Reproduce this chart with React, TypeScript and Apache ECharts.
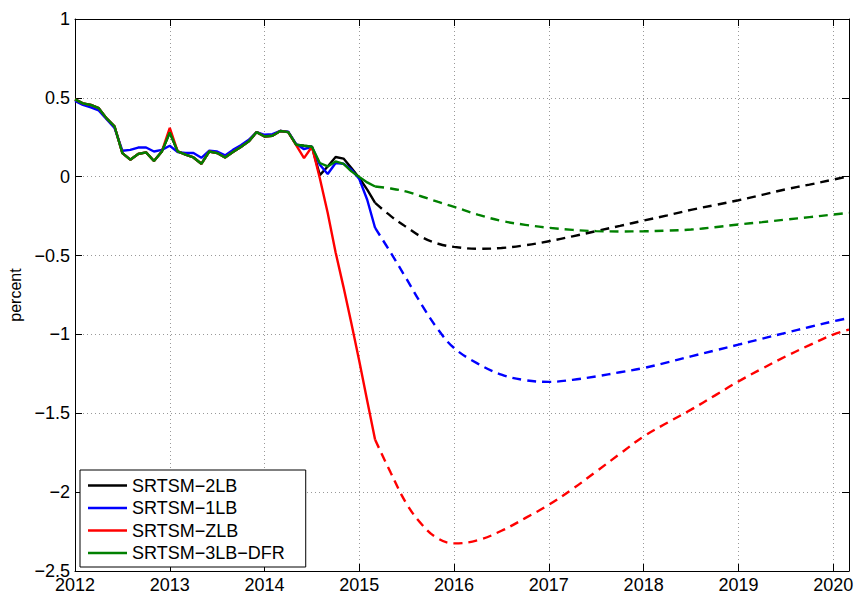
import React, { useEffect, useRef } from "react";
import * as echarts from "echarts";

const seriesNames = ["SRTSM−2LB", "SRTSM−1LB", "SRTSM−ZLB", "SRTSM−3LB−DFR"];
const seriesColors = ["#000000", "#0000ff", "#ff0000", "#008000"];

// monthly history, Jan 2012 .. Mar 2015
const hist2LB = [
  0.49, 0.465, 0.455, 0.435, 0.37, 0.32, 0.15, 0.108, 0.144, 0.154, 0.1, 0.16,
  0.28, 0.16, 0.14, 0.122, 0.082, 0.16, 0.15, 0.122, 0.156, 0.188, 0.224, 0.283,
  0.255, 0.26, 0.29, 0.283, 0.203, 0.196, 0.19, 0.01, 0.065, 0.125, 0.115, 0.055,
  -0.008, -0.082, -0.166,
];
const hist1LB = [
  0.48, 0.455, 0.44, 0.42, 0.365, 0.31, 0.165, 0.17, 0.185, 0.185, 0.16, 0.17,
  0.196, 0.156, 0.15, 0.15, 0.12, 0.165, 0.16, 0.135, 0.17, 0.2, 0.234, 0.283,
  0.266, 0.27, 0.29, 0.285, 0.207, 0.175, 0.19, 0.076, 0.017, 0.087, 0.082, 0.044,
  -0.015, -0.146, -0.325,
];
const histZLB = [
  0.49, 0.465, 0.455, 0.435, 0.37, 0.32, 0.15, 0.108, 0.144, 0.154, 0.1, 0.16,
  0.31, 0.16, 0.14, 0.122, 0.082, 0.16, 0.15, 0.122, 0.156, 0.188, 0.224, 0.283,
  0.255, 0.26, 0.29, 0.283, 0.2, 0.118, 0.19, -0.01, -0.23, -0.48, -0.7, -0.93,
  -1.17, -1.42, -1.668,
];
const hist3LB = [
  0.49, 0.465, 0.455, 0.435, 0.37, 0.32, 0.15, 0.108, 0.144, 0.154, 0.1, 0.16,
  0.28, 0.16, 0.14, 0.122, 0.082, 0.16, 0.15, 0.122, 0.156, 0.188, 0.224, 0.283,
  0.255, 0.26, 0.29, 0.283, 0.203, 0.196, 0.19, 0.087, 0.065, 0.097, 0.082, 0.034,
  -0.002, -0.036, -0.062,
];

// projections (dashed)
const fcYears = [
  2015.167, 2015.333, 2015.5, 2015.667, 2015.833, 2016, 2016.25, 2016.5, 2016.75,
  2017, 2017.25, 2017.5, 2017.75, 2018, 2018.25, 2018.5, 2018.75, 2019, 2019.25,
  2019.5, 2019.75, 2020, 2020.167,
];
const fc2LB = [
  -0.166, -0.25, -0.32, -0.385, -0.425, -0.445, -0.457, -0.452, -0.435, -0.409,
  -0.378, -0.345, -0.312, -0.278, -0.245, -0.21, -0.18, -0.149, -0.115, -0.08,
  -0.05, -0.018, 0.003,
];
const fc1LB = [
  -0.325, -0.483, -0.65, -0.82, -0.97, -1.086, -1.185, -1.255, -1.29, -1.301,
  -1.288, -1.266, -1.24, -1.213, -1.177, -1.139, -1.102, -1.065, -1.027, -0.99,
  -0.953, -0.917, -0.896,
];
const fcZLB = [
  -1.668, -1.879, -2.075, -2.21, -2.295, -2.325, -2.305, -2.245, -2.165, -2.08,
  -1.98, -1.869, -1.757, -1.647, -1.56, -1.477, -1.388, -1.298, -1.217, -1.139,
  -1.068, -1.001, -0.97,
];
const fc3LB = [
  -0.062, -0.075, -0.095, -0.127, -0.16, -0.191, -0.24, -0.28, -0.305, -0.324,
  -0.337, -0.345, -0.347, -0.346, -0.342, -0.335, -0.32, -0.303, -0.288, -0.272,
  -0.256, -0.24, -0.229,
];

const histAll = [hist2LB, hist1LB, histZLB, hist3LB];
const fcAll = [fc2LB, fc1LB, fcZLB, fc3LB];

const FONT = "'Liberation Sans', Arial, Helvetica, sans-serif";
const minus = (v: number) => String(v).replace("-", "\u2212");

const App: React.FC = () => {
  const chartRef = useRef<HTMLDivElement>(null);

  useEffect(() => {
    if (!chartRef.current) return;
    const chart = echarts.init(chartRef.current, undefined, { renderer: "svg" });

    const histSeries = histAll.map((vals, s) => ({
      name: seriesNames[s],
      type: "line",
      data: vals.map((v, i) => [2012 + i / 12, v]),
      symbol: "none",
      lineStyle: { color: seriesColors[s], width: 2.4 },
      itemStyle: { color: seriesColors[s] },
      z: 3,
    }));
    const fcSeries = fcAll.map((vals, s) => ({
      name: seriesNames[s] + " proj",
      type: "line",
      data: vals.map((v, i) => [fcYears[i], v]),
      symbol: "none",
      smooth: 0.4,
      lineStyle: { color: seriesColors[s], width: 2.4, type: [9, 6] },
      itemStyle: { color: seriesColors[s] },
      z: 3,
    }));

    const frameAxis = {
      axisLine: { show: true, onZero: false, lineStyle: { color: "#000", width: 1 } },
      axisTick: { show: true, inside: true, length: 7, lineStyle: { color: "#000" } },
      axisLabel: { show: false },
      splitLine: { show: false },
    };

    chart.setOption({
      animation: false,
      backgroundColor: "#fff",
      textStyle: { fontFamily: FONT },
      grid: { left: 75, right: 6, top: 19, bottom: 24, outerBoundsMode: "none" },
      legend: {
        data: seriesNames,
        orient: "vertical",
        left: 80,
        top: 470,
        selectedMode: false,
        backgroundColor: "#fff",
        borderColor: "#000",
        borderWidth: 1,
        borderRadius: 0,
        padding: [6.5, 21, 5, 8],
        icon: "rect",
        itemWidth: 39,
        itemHeight: 2.6,
        itemGap: 4.5,
        textStyle: { fontSize: 18, color: "#000", fontFamily: FONT, lineHeight: 18 },
      },
      xAxis: [
        {
          type: "value",
          min: 2012,
          max: 2020.167,
          interval: 1,
          axisLine: { show: true, onZero: false, lineStyle: { color: "#000", width: 1 } },
          axisTick: { show: true, inside: true, length: 7, lineStyle: { color: "#000" } },
          axisLabel: {
            color: "#000",
            fontSize: 18,
            fontFamily: FONT,
            margin: 5,
            showMaxLabel: false,
            formatter: (v: number) => (Number.isInteger(v) ? String(v) : ""),
          },
          splitLine: {
            show: true,
            lineStyle: { color: "#999", width: 1, type: [1, 3] },
          },
        },
        {
          type: "value",
          position: "top",
          min: 2012,
          max: 2020.167,
          interval: 1,
          ...frameAxis,
        },
      ],
      yAxis: [
        {
          type: "value",
          min: -2.5,
          max: 1,
          interval: 0.5,
          name: "percent",
          nameLocation: "middle",
          nameGap: 47,
          nameTextStyle: { fontSize: 16, color: "#000", fontFamily: FONT },
          axisLine: { show: true, onZero: false, lineStyle: { color: "#000", width: 1 } },
          axisTick: { show: true, inside: true, length: 7, lineStyle: { color: "#000" } },
          axisLabel: {
            color: "#000",
            fontSize: 18,
            fontFamily: FONT,
            margin: 5,
            formatter: (v: number) => minus(v),
          },
          splitLine: {
            show: true,
            lineStyle: { color: "#999", width: 1, type: [1, 3] },
          },
        },
        {
          type: "value",
          position: "right",
          min: -2.5,
          max: 1,
          interval: 0.5,
          ...frameAxis,
        },
      ],
      series: [...histSeries, ...fcSeries],
    });

    return () => {
      chart.dispose();
    };
  }, []);

  return (
    <div
      ref={chartRef}
      style={{ position: "fixed", left: 0, top: 0, width: "855px", height: "595px" }}
    />
  );
};

export default App;
